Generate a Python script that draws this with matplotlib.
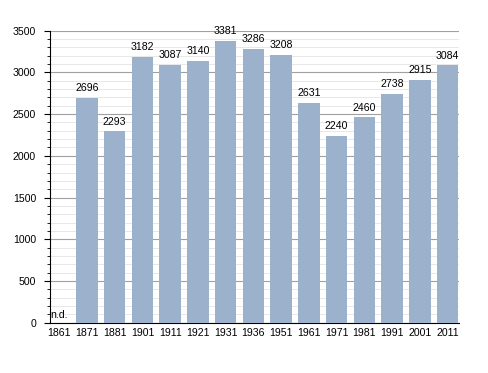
import matplotlib.pyplot as plt
from matplotlib.ticker import MultipleLocator

plt.rcParams['font.family'] = ['Liberation Sans', 'DejaVu Sans']

years = ['1861', '1871', '1881', '1901', '1911', '1921', '1931', '1936',
         '1951', '1961', '1971', '1981', '1991', '2001', '2011']
pop = [0, 2696, 2293, 3182, 3087, 3140, 3381, 3286, 3208, 2631, 2240,
       2460, 2738, 2915, 3084]

fig = plt.figure(figsize=(4.88, 3.73), dpi=100)
ax = fig.add_axes([50 / 488, 50.3 / 373, 409 / 488, 292 / 373])

x = range(len(years))
ax.bar(x[1:], pop[1:], width=0.77, color='#9bb1cc', zorder=3)
for i, v in zip(x[1:], pop[1:]):
    ax.annotate(str(v), (i, v), xytext=(0, 3.5), textcoords='offset points',
                ha='center', va='bottom', fontsize=7.6, zorder=4)
ax.text(0, 60, 'n.d.', ha='center', va='baseline', fontsize=7.6, zorder=4)

ax.set_xlim(-0.33, 14.41)
ax.set_ylim(0, 3500)
ax.set_xticks(list(x))
ax.set_xticklabels(years, fontsize=7.6)
ax.yaxis.set_major_locator(MultipleLocator(500))
ax.yaxis.set_minor_locator(MultipleLocator(100))
ax.tick_params(axis='y', labelsize=7.6, length=4, width=0.8, pad=6)
ax.tick_params(axis='y', which='minor', length=2.2, width=0.6)
ax.tick_params(axis='x', length=0, pad=3.5)
ax.grid(axis='y', which='major', color='#a0a0a0', linewidth=0.8, zorder=1)
ax.grid(axis='y', which='minor', color='#e4e4e4', linewidth=0.6, zorder=1)
for s in ['top', 'right']:
    ax.spines[s].set_visible(False)

fig.savefig('out.png', dpi=100)
